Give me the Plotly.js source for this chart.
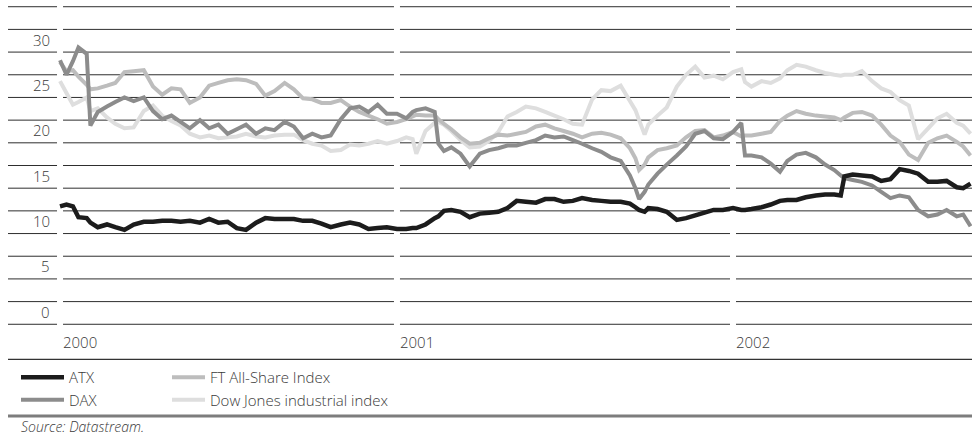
<!DOCTYPE html>
<html>
<head>
<meta charset="utf-8">
<script src="https://cdn.plot.ly/plotly-3.0.1.min.js"></script>
<style>html,body{margin:0;padding:0;background:#fff;}#chart{width:972px;height:447px;}</style>
</head>
<body>
<div id="chart"></div>
<script>
const dates = [
'2000-01-01','2000-01-08','2000-01-15','2000-01-21','2000-01-30','2000-02-03','2000-02-11','2000-02-21','2000-03-01','2000-03-11','2000-03-21','2000-04-01','2000-04-11','2000-04-21','2000-05-01','2000-05-11','2000-05-21','2000-06-01','2000-06-11','2000-06-21','2000-07-01','2000-07-11','2000-07-21','2000-08-01','2000-08-11','2000-08-21','2000-09-01','2000-09-11','2000-09-21','2000-10-01','2000-10-11','2000-10-21','2000-11-01','2000-11-11','2000-11-21','2000-12-01','2000-12-11','2000-12-21',
'2001-01-01','2001-01-11','2001-01-18','2001-01-22','2001-02-01','2001-02-11','2001-02-15','2001-02-21','2001-03-01','2001-03-11','2001-03-21','2001-04-01','2001-04-11','2001-04-21','2001-05-01','2001-05-11','2001-05-21','2001-06-01','2001-06-11','2001-06-21','2001-07-01','2001-07-11','2001-07-21','2001-08-01','2001-08-11','2001-08-21','2001-09-01','2001-09-11','2001-09-17','2001-09-21','2001-09-27','2001-10-01','2001-10-11','2001-10-21','2001-11-01','2001-11-11','2001-11-21','2001-12-01','2001-12-11','2001-12-21',
'2002-01-01','2002-01-10','2002-01-14','2002-01-21','2002-02-01','2002-02-11','2002-02-21','2002-03-01','2002-03-11','2002-03-21','2002-04-01','2002-04-11','2002-04-21','2002-04-28','2002-05-02','2002-05-11','2002-05-21','2002-06-01','2002-06-11','2002-06-21','2002-07-01','2002-07-11','2002-07-21','2002-08-01','2002-08-11','2002-08-21','2002-09-01','2002-09-08','2002-09-16'
];

const atx = [
13.0,13.2,13.0,11.8,11.7,11.2,10.7,11.0,10.7,10.4,11.0,11.3,11.3,11.4,11.4,11.3,11.4,11.2,11.6,11.2,11.3,10.6,10.4,11.2,11.7,11.6,11.6,11.6,11.4,11.4,11.1,10.7,11.0,11.2,11.0,10.5,10.6,10.7,
10.5,10.5,10.6,10.6,11.0,11.7,11.9,12.5,12.6,12.4,11.8,12.2,12.3,12.4,12.8,13.6,13.5,13.4,13.8,13.8,13.5,13.6,13.9,13.7,13.6,13.5,13.5,13.3,12.9,12.6,12.4,12.8,12.7,12.4,11.5,11.7,12.0,12.3,12.6,12.6,
12.8,12.6,12.6,12.7,12.9,13.2,13.6,13.7,13.7,14.0,14.2,14.3,14.3,14.2,16.3,16.5,16.4,16.3,15.8,16.0,17.1,16.9,16.6,15.7,15.7,15.8,15.1,15.0,15.5
];

const dax = [
29.1,27.5,29.0,30.5,29.8,21.9,23.4,24.0,24.5,25.0,24.6,25.0,23.5,22.6,23.0,22.3,21.6,22.5,21.6,22.0,21.0,21.5,22.0,21.0,21.6,21.4,22.3,21.8,20.5,21.0,20.6,20.8,22.6,23.8,24.0,23.4,24.2,23.2,
23.2,22.7,23.4,23.6,23.8,23.4,19.9,19.1,19.5,18.8,17.4,18.8,19.2,19.4,19.7,19.7,20.0,20.3,20.8,20.6,20.7,20.3,19.9,19.4,19.0,18.4,18.0,16.4,15.0,13.8,14.6,15.4,16.6,17.6,18.6,19.6,21.0,21.3,20.5,20.4,
21.2,22.2,18.6,18.6,18.4,17.7,16.8,18.0,18.7,18.9,18.4,17.6,17.0,16.4,16.1,15.9,15.7,15.3,14.6,13.9,14.2,14.0,12.6,11.9,12.1,12.6,11.9,12.1,10.8
];

const ftAllShare = [
28.9,27.9,28.0,27.3,26.4,25.9,26.0,26.3,26.6,27.8,27.9,28.0,26.2,25.3,26.0,25.9,24.4,25.0,26.3,26.6,26.9,27.0,26.9,26.5,25.2,25.7,26.6,25.9,24.9,24.8,24.4,24.4,24.7,24.0,23.4,23.0,22.6,22.1,
22.3,22.6,22.9,23.1,23.0,23.0,22.6,22.1,21.5,20.6,19.9,20.0,20.5,20.9,20.8,21.0,21.2,21.8,22.0,21.6,21.3,21.0,20.6,21.0,21.1,20.9,20.5,19.4,18.3,17.0,17.6,18.4,19.2,19.4,19.7,20.6,21.3,21.4,20.6,20.8,
21.2,20.7,20.8,20.8,21.0,21.2,22.4,23.0,23.5,23.2,23.0,22.9,22.8,22.5,22.8,23.3,23.4,23.0,22.0,20.8,20.1,18.7,18.1,20.0,20.5,20.8,20.1,19.6,18.6
];

const dowJones = [
26.8,25.5,24.2,24.5,25.0,23.5,23.8,22.8,22.1,21.6,21.7,23.5,24.1,23.0,22.4,21.9,21.0,20.6,20.8,20.5,20.6,20.7,21.0,20.7,20.6,20.8,20.9,20.9,20.3,19.9,19.7,19.1,19.2,19.8,19.7,19.9,20.2,19.9,
20.2,20.6,20.4,18.8,21.3,22.2,22.3,22.0,21.3,20.3,19.5,19.6,20.2,21.2,22.9,23.4,24.0,23.8,23.4,23.0,22.6,22.1,22.0,24.8,25.8,25.7,26.3,24.6,23.6,22.5,20.9,22.0,23.0,23.9,26.2,27.5,28.4,27.2,27.4,27.0,
27.8,28.1,26.7,26.2,26.8,26.6,27.1,28.0,28.6,28.4,28.0,27.7,27.5,27.4,27.5,27.5,27.9,26.8,26.0,25.6,24.7,24.1,20.4,21.6,22.7,23.2,22.2,21.9,21.0
];

const seriesNames = ['ATX','DAX','FT All-Share Index','Dow Jones industrial index'];
const yearLabels = ['2000','2001','2002'];
const yearStarts = ['2000-01-01','2001-01-01','2002-01-01'];
const yTickVals = [0,5,10,15,20,25,30];
const gridVals = [0,2.5,5,7.5,10,12.5,15,17.5,20,22.5,25,27.5,30,32.5,35];
const xRange = ['1999-11-05 12:00', '2002-09-17 14:00'];

const FONT = '"Open Sans", Lato, "DejaVu Sans", sans-serif';
const TXT = '#3a3a3a';
const Y0 = -0.3, Y1 = 35.3;

function tr(y, name, color, width, legend, rank) {
  return {x: dates, y: y, name: name, type: 'scatter', mode: 'lines',
    line: {color: color, width: width, simplify: false}, legend: legend, legendrank: rank, hoverinfo: 'skip'};
}

const traces = [
  tr(dowJones, seriesNames[3], '#dedede', 4, 'legend2', 2),
  tr(ftAllShare, seriesNames[2], '#bdbdbd', 4, 'legend2', 1),
  tr(dax, seriesNames[1], '#8c8c8c', 4, 'legend', 2),
  tr(atx, seriesNames[0], '#1c1c1c', 4.5, 'legend', 1)
];

const H = 447, T = 4, B = 120, L = 8, W = 972;
const plotH = H - T - B;
function py(pix) { return (H - B - pix) / plotH; }
function px(pix) { return (pix - L) / (W - L); }

const toMs = s => new Date(s.replace(' ', 'T') + (s.length > 10 ? ':00Z' : 'T00:00:00Z')).getTime();
const tStart = toMs(xRange[0]), tEnd = toMs(xRange[1]);
const dateFrac = s => (toMs(s) - tStart) / (tEnd - tStart);
const halfGap = 3 / (W - L);

const annotations = [];
yTickVals.forEach(v => annotations.push({
  x: px(52), xref: 'paper', xanchor: 'right', y: v, yref: 'y', yanchor: 'middle', yshift: 12.5,
  text: String(v), showarrow: false, font: {family: FONT, size: 15, color: TXT, weight: 300}
}));
yearLabels.forEach((t, i) => annotations.push({
  x: dateFrac(yearStarts[i]) + 1 / (W - L), xref: 'paper', xanchor: 'left', y: py(342), yref: 'paper', yanchor: 'middle',
  text: t, showarrow: false, font: {family: FONT, size: 15, color: TXT, weight: 300}
}));
annotations.push({
  x: px(19), xref: 'paper', xanchor: 'left', y: py(426), yref: 'paper', yanchor: 'middle',
  text: '<i>Source: Datastream.</i>', showarrow: false, font: {family: FONT, size: 14, color: TXT, weight: 300}
});

// horizontal grid lines, broken by a small white gap at the start of each year
const segs = [];
let prev = 0;
yearStarts.map(dateFrac).forEach(b => { segs.push([prev, b - halfGap]); prev = b + halfGap; });
segs.push([prev, 1]);

const shapes = [];
gridVals.forEach(v => segs.forEach(s => shapes.push({
  type: 'line', xref: 'paper', yref: 'y', x0: s[0], x1: s[1], y0: v, y1: v,
  line: {color: '#2e2e2e', width: 1}, layer: 'below'
})));
shapes.push({type: 'line', xref: 'paper', yref: 'paper', x0: 0, x1: 1, y0: py(359.3), y1: py(359.3),
  line: {color: '#333333', width: 1.3}});
shapes.push({type: 'line', xref: 'paper', yref: 'paper', x0: 0, x1: 1, y0: py(416), y1: py(416),
  line: {color: '#7d7d7d', width: 3}});

const legendFont = {family: FONT, size: 15, color: TXT, weight: 300};
const layout = {
  width: W, height: H,
  margin: {l: L, r: 0, t: T, b: B},
  paper_bgcolor: '#ffffff', plot_bgcolor: '#ffffff',
  showlegend: true,
  legend: {x: px(16), xanchor: 'left', y: py(361), yanchor: 'top', orientation: 'v',
    font: legendFont, bgcolor: 'rgba(0,0,0,0)', borderwidth: 0, traceorder: 'normal', itemwidth: 43, tracegroupgap: 0},
  legend2: {x: px(167), xanchor: 'left', y: py(361), yanchor: 'top', orientation: 'v',
    font: legendFont, bgcolor: 'rgba(0,0,0,0)', borderwidth: 0, traceorder: 'normal', itemwidth: 33, tracegroupgap: 0},
  xaxis: {type: 'date', range: xRange, visible: false, showgrid: false,
    zeroline: false, showline: false, showticklabels: false, ticks: '', fixedrange: true},
  yaxis: {range: [Y0, Y1], visible: false, showgrid: false,
    zeroline: false, showline: false, showticklabels: false, ticks: '', fixedrange: true},
  annotations: annotations,
  shapes: shapes
};

Plotly.newPlot('chart', traces, layout, {staticPlot: true, displayModeBar: false});
</script>
</body>
</html>
